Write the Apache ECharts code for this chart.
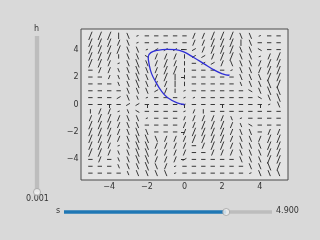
<!DOCTYPE html>
<html><head><meta charset="utf-8">
<script src="https://cdn.jsdelivr.net/npm/echarts@6/dist/echarts.min.js"></script>
<style>html,body{margin:0;padding:0;background:#d9d9d9}#c{width:320px;height:240px}</style>
</head><body><div id="c"></div>
<script>
// ---- data ----
const gridX = [-5,-4.5,-4,-3.5,-3,-2.5,-2,-1.5,-1,-0.5,0,0.5,1,1.5,2,2.5,3,3.5,4,4.5,5];
const gridY = [5,4.5,4,3.5,3,2.5,2,1.5,1,0.5,0,-0.5,-1,-1.5,-2,-2.5,-3,-3.5,-4,-4.5,-5];
// arrow direction codes per row (top row y=5 first), columns x=-5..5
const dirRows = [
  "///|k.-----/////kk.--",
  "////k.-----/////|k---",
  "////kk.~~~-~////kk`--",
  "///|kk`///|~~///kk.//",
  "///.kkk///|-~~/kkk///",
  "-//kkkk///|----.kk///",
  "--/kkkk//||-----kkk//",
  "---kkkk//||-----kkkk/",
  "----kkk~/|.------`kkk",
  "---~kk.---..------`kk",
  "----~~----.--------.k",
  "|//.k`----./|--------",
  "////kk.---/////k.----",
  "////kk----//////k`---",
  "////kkk---//////kk-//",
  "////kkkk////////kk///",
  "///.kkk////-////kkk//",
  "///kkkk////--///kkk//",
  "-/-kkkk///~-----kkk//",
  "---kkkkk/.-------kkk/",
  "----kkkkk.-------.kkk"
];
// arrow magnitude classes per row (0 = tiny .. 3 = long)
const magRows = [
  "333220111112233322011",
  "333220111112233322111",
  "333322011111233322111",
  "333122122211123322023",
  "332023223211112222233",
  "122123223311111022233",
  "111123223211111122233",
  "111123222211111112233",
  "111122212101111111233",
  "111121011100111111123",
  "111111111101111111102",
  "122011111101111111111",
  "233222011112222101111",
  "333222111122333211111",
  "333223211123333222122",
  "333223322223333222233",
  "332023322221233222233",
  "332123322221122222233",
  "121123322211111122233",
  "111122322011111112233",
  "111112222011111110222"
];
const dirAngle = {'-':0,'~':30,'/':68,'|':90,'k':112,'`':150,'.':20};
// trajectory
const trajX = [0,-0.39,-0.91,-1.26,-1.53,-1.75,-1.87,-1.93,-1.79,-1.44,-0.91,-0.47,-0.04,0.49,1.02,1.54,1.98,2.33,2.39];
const trajY = [0,0.12,0.51,1.04,1.65,2.25,2.86,3.46,3.78,3.95,4.02,4.0,3.83,3.42,2.98,2.54,2.25,2.13,2.18];
const xTicks = [-4,-2,0,2,4];
const yTicks = [-4,-2,0,2,4];
// sliders
const sMin = 0, sMax = 6.2832, sValue = 4.9;
const hMin = 0.001, hMax = 0.1, hValue = 0.001;

// ---- build ----
const quiver = [];
for (let j = 0; j < gridY.length; j++) {
  const d = dirRows[j], m = magRows[j];
  for (let i = 0; i < gridX.length; i++) {
    const dc = d[i] || '-';
    const mc = m[i] !== undefined ? +m[i] : 1;
    quiver.push([gridX[i], gridY[j], dirAngle[dc] !== undefined ? dirAngle[dc] : 0, mc]);
  }
}
const traj = trajX.map((x, i) => [x, trajY[i]]);
const LEN = [1.5, 3.6, 5.6, 8.2];
const fmt = v => (v < 0 ? '\u2212' + (-v) : '' + v);
const FONT = 'DejaVu Sans';

const chart = echarts.init(document.getElementById('c'), null, {renderer: 'canvas'});
chart.setOption({
  backgroundColor: '#d9d9d9',
  animation: false,
  grid: [
    {left: 81, top: 29, width: 207, height: 151, show: true, backgroundColor: '#e4e4e4', borderColor: '#4a4a4a', borderWidth: 1},
    {left: 64, top: 210, width: 208, height: 4},
    {left: 35, top: 36, width: 4, height: 156}
  ],
  xAxis: [
    {gridIndex: 0, type: 'value', min: -5.5, max: 5.5,
     axisLine: {show: false}, splitLine: {show: false},
     axisTick: {show: true, length: 3.5, lineStyle: {color: '#333'}, customValues: xTicks},
     axisLabel: {show: true, customValues: xTicks, formatter: fmt, fontSize: 8, color: '#333', margin: 2.5, fontFamily: FONT}},
    {gridIndex: 1, type: 'value', min: sMin, max: sMax, show: false},
    {gridIndex: 2, type: 'value', min: -1, max: 1, show: false}
  ],
  yAxis: [
    {gridIndex: 0, type: 'value', min: -5.5, max: 5.5,
     axisLine: {show: false}, splitLine: {show: false},
     axisTick: {show: true, length: 3.5, lineStyle: {color: '#333'}, customValues: yTicks},
     axisLabel: {show: true, customValues: yTicks, formatter: fmt, fontSize: 8, color: '#333', margin: 2.5, fontFamily: FONT}},
    {gridIndex: 1, type: 'value', min: -1, max: 1, show: false},
    {gridIndex: 2, type: 'value', min: hMin, max: hMax, show: false}
  ],
  series: [
    {type: 'custom', xAxisIndex: 0, yAxisIndex: 0, data: quiver, clip: true,
     encode: {x: 0, y: 1},
     renderItem: function (params, api) {
       const p = api.coord([api.value(0), api.value(1)]);
       const a = api.value(2) * Math.PI / 180;
       const L = LEN[api.value(3)] || 4;
       const dx = Math.cos(a) * L / 2, dy = -Math.sin(a) * L / 2;
       return {type: 'line', shape: {x1: p[0] - dx, y1: p[1] - dy, x2: p[0] + dx, y2: p[1] + dy},
               style: {stroke: '#2e2e2e', lineWidth: 0.95, lineCap: 'round'}};
     }},
    {type: 'line', xAxisIndex: 0, yAxisIndex: 0, data: traj, smooth: 0.4, showSymbol: false,
     lineStyle: {color: '#2f2fd6', width: 1.3}, z: 5},
    // horizontal slider s
    {type: 'line', xAxisIndex: 1, yAxisIndex: 1, data: [[sValue, 0], [sMax, 0]], showSymbol: false,
     lineStyle: {color: '#bdbdbd', width: 3.5, cap: 'butt'}},
    {type: 'line', xAxisIndex: 1, yAxisIndex: 1, data: [[sMin, 0], [sValue, 0]], showSymbol: false,
     lineStyle: {color: '#1f77b4', width: 3.5, cap: 'butt'}},
    {type: 'scatter', xAxisIndex: 1, yAxisIndex: 1, data: [[sValue, 0]], symbolSize: 7,
     itemStyle: {color: '#f2f2f2', borderColor: '#a0a0a0', borderWidth: 1}, z: 5},
    // vertical slider h
    {type: 'line', xAxisIndex: 2, yAxisIndex: 2, data: [[0, hMin], [0, hMax]], showSymbol: false,
     lineStyle: {color: '#bdbdbd', width: 4.3, cap: 'butt'}},
    {type: 'scatter', xAxisIndex: 2, yAxisIndex: 2, data: [[0, hValue]], symbolSize: 7,
     itemStyle: {color: '#f2f2f2', borderColor: '#a0a0a0', borderWidth: 1}, z: 5}
  ],
  graphic: [
    {type: 'text', left: 34, top: 25, style: {text: 'h', fontSize: 8, fill: '#333', fontFamily: FONT}},
    {type: 'text', left: 26, top: 195, style: {text: hValue.toFixed(3), fontSize: 8, fill: '#333', fontFamily: FONT}},
    {type: 'text', left: 56, top: 207, style: {text: 's', fontSize: 8, fill: '#333', fontFamily: FONT}},
    {type: 'text', left: 276, top: 207, style: {text: sValue.toFixed(3), fontSize: 8, fill: '#333', fontFamily: FONT}}
  ]
});
</script></body></html>
